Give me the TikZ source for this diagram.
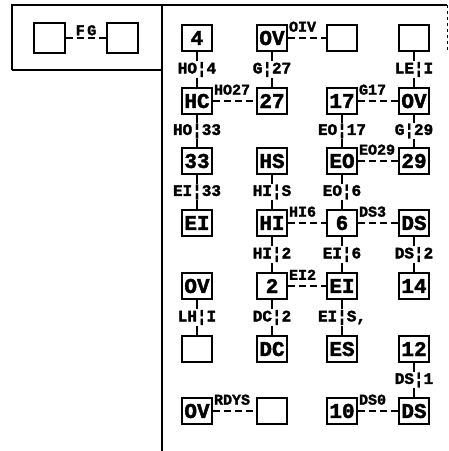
\documentclass[tikz,border=0pt]{standalone}
\usepackage{fontspec}
\setmonofont{Liberation Mono}[BoldFeatures={FakeBold=2}]
\begin{document}
\begin{tikzpicture}[x=1pt,y=-1pt,
  box/.style={draw, line width=1.7pt, minimum width=30pt, minimum height=26pt, inner sep=0pt,
    font=\ttfamily\bfseries\fontsize{21}{21}\selectfont},
  vl/.style={fill=white, inner sep=1pt, font=\ttfamily\bfseries\fontsize{16}{16}\selectfont},
  hl/.style={anchor=south west, inner sep=1pt, yshift=5pt, font=\ttfamily\bfseries\fontsize{15}{15}\selectfont},
  vc/.style={line width=1.2pt},
  hc/.style={line width=1.2pt, dash pattern=on 7pt off 4pt},
  frameline/.style={line width=1.8pt}]
\useasboundingbox (0,0) rectangle (449,451);
% frame
\draw[frameline] (12,70) -- (12,5) -- (447,5);
\draw[frameline] (12,70) -- (162,70);
\draw[frameline] (162,5) -- (162,451);
\draw[line width=0.8pt, dashed] (447,5) -- (447,50);
% top-left pair
\node[box, minimum width=31pt, minimum height=30pt] (f1) at (49.5,38) {};
\node[box, minimum width=31pt, minimum height=30pt] (f2) at (122.5,38) {};
\draw[hc] (f1) -- (f2) node[midway, above, inner sep=2pt, font=\ttfamily\bfseries\fontsize{15}{15}\selectfont] (fg) {F\,G};
% grid nodes
\def\cA{197}\def\cB{272}\def\cC{342}\def\cD{414}
\node[box] (n11) at (\cA,38) {4};
\node[box] (n12) at (\cB,38) {OV};
\node[box] (n13) at (\cC,38) {};
\node[box] (n14) at (\cD,38) {};
\node[box] (n21) at (\cA,101) {HC};
\node[box] (n22) at (\cB,101) {27};
\node[box] (n23) at (\cC,101) {17};
\node[box] (n24) at (\cD,101) {OV};
\node[box] (n31) at (\cA,161) {33};
\node[box] (n32) at (\cB,161) {HS};
\node[box] (n33) at (\cC,161) {EO};
\node[box] (n34) at (\cD,161) {29};
\node[box] (n41) at (\cA,223) {EI};
\node[box] (n42) at (\cB,223) {HI};
\node[box] (n43) at (\cC,223) {6};
\node[box] (n44) at (\cD,223) {DS};
\node[box] (n51) at (\cA,286) {OV};
\node[box] (n52) at (\cB,286) {2};
\node[box] (n53) at (\cC,286) {EI};
\node[box] (n54) at (\cD,286) {14};
\node[box] (n61) at (\cA,349) {};
\node[box] (n62) at (\cB,349) {DC};
\node[box] (n63) at (\cC,349) {ES};
\node[box] (n64) at (\cD,349) {12};
\node[box] (n71) at (\cA,411) {OV};
\node[box] (n72) at (\cB,411) {};
\node[box] (n73) at (\cC,411) {10};
\node[box] (n74) at (\cD,411) {DS};
% vertical connectors
\draw[vc] (n11) -- node[vl] {HO¦4} (n21);
\draw[vc] (n12) -- node[vl] {G¦27} (n22);
\draw[vc] (n14) -- node[vl] {LE¦I} (n24);
\draw[vc] (n21) -- node[vl] {HO¦33} (n31);
\draw[vc] (n23) -- node[vl] {EO¦17} (n33);
\draw[vc] (n24) -- node[vl] {G¦29} (n34);
\draw[vc] (n31) -- node[vl] {EI¦33} (n41);
\draw[vc] (n32) -- node[vl] {HI¦S} (n42);
\draw[vc] (n33) -- node[vl] {EO¦6} (n43);
\draw[vc] (n42) -- node[vl] {HI¦2} (n52);
\draw[vc] (n43) -- node[vl] {EI¦6} (n53);
\draw[vc] (n44) -- node[vl] {DS¦2} (n54);
\draw[vc] (n51) -- node[vl] {LH¦I} (n61);
\draw[vc] (n52) -- node[vl] {DC¦2} (n62);
\draw[vc] (n53) -- node[vl] {EI¦S,} (n63);
\draw[vc] (n64) -- node[vl] {DS¦1} (n74);
% horizontal connectors
\draw[hc] (n12) -- (n13); \node[hl] (l1) at (n12.east) {OIV};
\draw[hc] (n21) -- (n22); \node[hl] (l2) at (n21.east) {HO27};
\draw[hc] (n23) -- (n24); \node[hl] (l3) at (n23.east) {G17};
\draw[hc] (n33) -- (n34); \node[hl] (l4) at (n33.east) {EO29};
\draw[hc] (n42) -- (n43); \node[hl] (l5) at (n42.east) {HI6};
\draw[hc] (n43) -- (n44); \node[hl] (l6) at (n43.east) {DS3};
\draw[hc] (n52) -- (n53); \node[hl] (l7) at (n52.east) {EI2};
\draw[hc] (n71) -- (n72); \node[hl] (l8) at (n71.east) {RDYS};
\draw[hc] (n73) -- (n74); \node[hl] (l9) at (n73.east) {DS0};
\end{tikzpicture}
\end{document}
